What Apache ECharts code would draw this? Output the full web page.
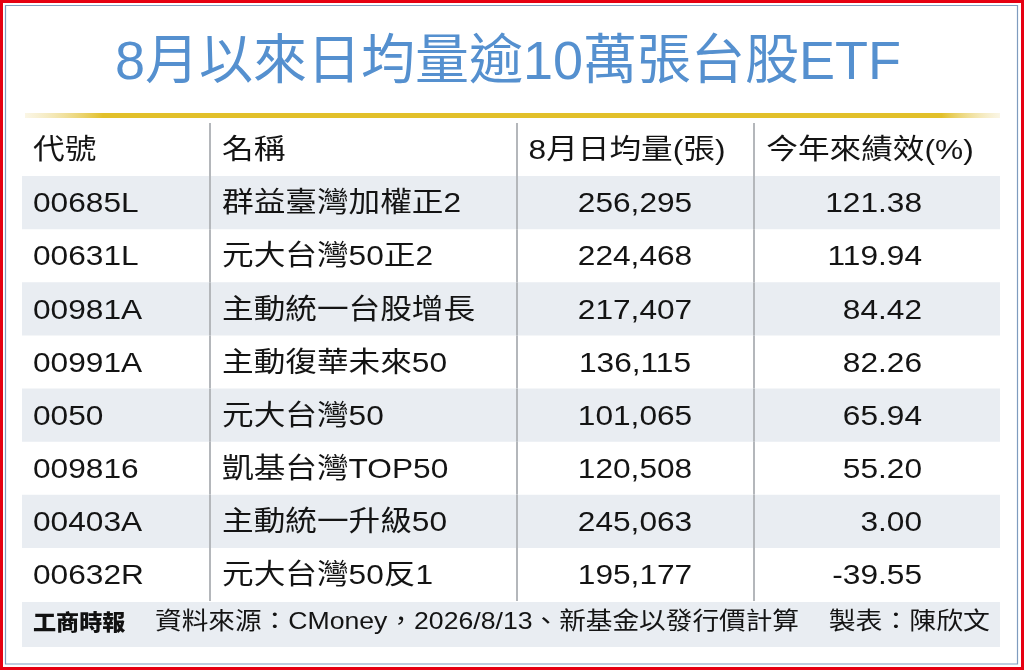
<!DOCTYPE html>
<html>
<head>
<meta charset="utf-8">
<script src="https://cdn.jsdelivr.net/npm/echarts@6/dist/echarts.min.js"></script>
<style>
html,body{margin:0;padding:0;background:#fff;}
#chart{width:1024px;height:670px;}
</style>
</head>
<body>
<div id="chart"></div>
<script>
// ---- data ----
const title = '8月以來日均量逾10萬張台股ETF';
const headers = ['代號', '名稱', '8月日均量(張)', '今年來績效(%)'];
const codes = ['00685L', '00631L', '00981A', '00991A', '0050', '009816', '00403A', '00632R'];
const names = ['群益臺灣加權正2', '元大台灣50正2', '主動統一台股增長', '主動復華未來50', '元大台灣50', '凱基台灣TOP50', '主動統一升級50', '元大台灣50反1'];
const volumes = [256295, 224468, 217407, 136115, 101065, 120508, 245063, 195177];
const performance = [121.38, 119.94, 84.42, 82.26, 65.94, 55.20, 3.00, -39.55];
const logoText = '工商時報';
const sourceText = '資料來源：CMoney，2026/8/13、新基金以發行價計算';
const creditText = '製表：陳欣文';

// ---- layout constants (grid units = px inside the table grid) ----
const TABLE_W = 978;
const dividers = [188, 495, 732];
const FONT = '"Liberation Sans", "Noto Sans CJK TC", sans-serif';
const TXT = '#141414';
const BAND = '#e9edf2';
const SX = 1.13;

const rowKeys = ['header'].concat(codes);
const rowIdx = rowKeys.map((_, i) => i);

function txt(x, y, text, align, size, sx) {
  return {
    type: 'text', x: x, y: y, scaleX: sx || SX,
    style: { text: text, x: 0, y: 0, align: align, verticalAlign: 'middle',
             fill: TXT, font: (size || 28) + 'px ' + FONT }
  };
}

function renderRow(params, api) {
  const i = api.value(0);
  const p0 = api.coord([0, i]);
  const p1 = api.coord([TABLE_W, i]);
  const h = api.size([0, 1])[1];
  const yc = p0[1];
  const top = yc - h / 2;
  const X = v => api.coord([v, i])[0];
  const children = [];
  if (i > 0 && i % 2 === 1) {
    children.push({ type: 'rect', shape: { x: p0[0], y: top, width: p1[0] - p0[0], height: h },
                    style: { fill: BAND } });
  }
  dividers.forEach(d => {
    children.push({ type: 'line', shape: { x1: X(d), y1: top, x2: X(d), y2: top + h },
                    style: { stroke: '#b4b7bb', lineWidth: 2 } });
  });
  const ty = yc + 2;
  if (i === 0) {
    children.push(txt(X(11), ty, headers[0], 'left'));
    children.push(txt(X(200), ty, headers[1], 'left'));
    children.push(txt(X(605), ty, headers[2], 'center'));
    children.push(txt(X(848), ty, headers[3], 'center'));
  } else {
    const k = i - 1;
    children.push(txt(X(11), ty, codes[k], 'left'));
    children.push(txt(X(200), ty, names[k], 'left'));
    children.push(txt(X(613), ty, volumes[k].toLocaleString('en-US'), 'center'));
    children.push(txt(X(900), ty, performance[k].toFixed(2), 'right'));
  }
  return { type: 'group', children: children };
}

const chart = echarts.init(document.getElementById('chart'), null, { renderer: 'canvas' });
chart.setOption({
  animation: false,
  backgroundColor: '#ffffff',
  grid: { left: 22, right: 24, top: 123, bottom: 69 },
  xAxis: { type: 'value', min: 0, max: TABLE_W, show: false },
  yAxis: { type: 'category', data: rowKeys, inverse: true, show: false },
  series: [{
    type: 'custom',
    renderItem: renderRow,
    encode: { y: 0 },
    data: rowIdx.map(i => [i]),
    silent: true
  }],
  graphic: [
    { type: 'rect', shape: { x: 1.5, y: 1.5, width: 1021, height: 667 },
      style: { fill: 'none', stroke: '#e60012', lineWidth: 3 } },
    { type: 'rect', shape: { x: 5.5, y: 5.5, width: 1012, height: 658.5 },
      style: { fill: 'none', stroke: '#7f9cbf', lineWidth: 1.2 } },
    { type: 'text', x: 508, y: 64, scaleX: 1.0,
      style: { text: title, x: 0, y: 0, align: 'center', verticalAlign: 'middle',
               fill: '#5590cf', font: '54px ' + FONT } },
    { type: 'rect', shape: { x: 25, y: 113, width: 975, height: 5 },
      style: { fill: new echarts.graphic.LinearGradient(0, 0, 1, 0, [
        { offset: 0, color: 'rgba(240,225,170,0.3)' },
        { offset: 0.08, color: '#e2c02a' },
        { offset: 0.94, color: '#e2c02a' },
        { offset: 1, color: 'rgba(240,225,170,0.3)' }
      ]) } },
    { type: 'rect', shape: { x: 22, y: 602, width: 978, height: 45 },
      style: { fill: BAND } },
    { type: 'text', x: 33, y: 622, scaleX: 1.05,
      style: { text: logoText, x: 0, y: 0, align: 'left', verticalAlign: 'middle',
               fill: '#111', font: '900 22px "Noto Sans CJK TC", sans-serif' } },
    { type: 'text', x: 155, y: 622, scaleX: 1.11,
      style: { text: sourceText, x: 0, y: 0, align: 'left', verticalAlign: 'middle',
               fill: TXT, font: '24px ' + FONT } },
    { type: 'text', x: 990, y: 622, scaleX: 1.12,
      style: { text: creditText, x: 0, y: 0, align: 'right', verticalAlign: 'middle',
               fill: TXT, font: '24px ' + FONT } }
  ]
});
</script>
</body>
</html>
